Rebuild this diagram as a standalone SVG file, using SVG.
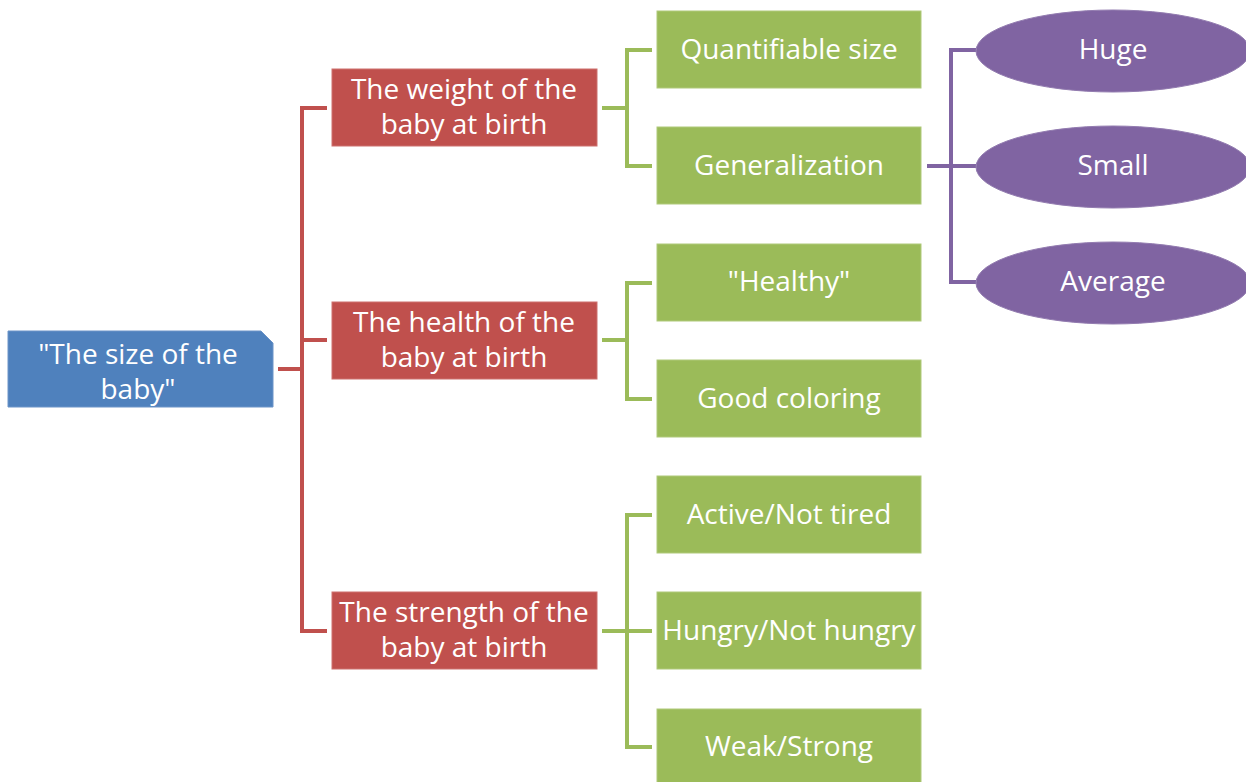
<svg xmlns="http://www.w3.org/2000/svg" width="1246" height="782" viewBox="0 0 1246 782">
  <style>
    text { font-family: "Open Sans", "Noto Sans", "Liberation Sans", sans-serif; font-size: 28px; fill: #ffffff; text-anchor: middle; }
    .root { fill: #4F81BD; stroke: #6C94C8; stroke-width: 1; }
    .lvl1 { fill: #C0504D; stroke: #CD716E; stroke-width: 1; }
    .lvl2 { fill: #9BBB59; stroke: #AFC97B; stroke-width: 1; }
    .lvl3 { fill: #8064A2; stroke: #937CB0; stroke-width: 1; }
    .c-red { fill: none; stroke: #C0504D; stroke-width: 4; }
    .c-green { fill: none; stroke: #9BBB59; stroke-width: 4; }
    .c-purple { fill: none; stroke: #8064A2; stroke-width: 4; }
  </style>

  <!-- connectors -->
  <g id="connectors">
    <path class="c-red" d="M278 369 H302 M327 108 H302 V631 H327 M302 340 H327"/>
    <path class="c-green" d="M602 108 H627 M652 50 H627 V166 H652"/>
    <path class="c-green" d="M602 340 H627 M652 283 H627 V399 H652"/>
    <path class="c-green" d="M602 631 H627 M652 515 H627 V747 H652 M627 631 H652"/>
    <path class="c-purple" d="M927 166 H951 M976 50 H951 V282 H976 M951 166 H976"/>
  </g>

  <!-- root -->
  <g id="node-root">
    <path class="root" d="M8 331 H261 L273 343 V407 H8 Z"/>
    <text x="138" y="364">"The size of the</text>
    <text x="138" y="399">baby"</text>
  </g>

  <!-- second level -->
  <g id="node-weight">
    <rect class="lvl1" x="332" y="69" width="265" height="77"/>
    <text x="464" y="99">The weight of the</text>
    <text x="464" y="134">baby at birth</text>
  </g>
  <g id="node-health">
    <rect class="lvl1" x="332" y="302" width="265" height="77"/>
    <text x="464" y="332">The health of the</text>
    <text x="464" y="367">baby at birth</text>
  </g>
  <g id="node-strength">
    <rect class="lvl1" x="332" y="592" width="265" height="77"/>
    <text x="464" y="622">The strength of the</text>
    <text x="464" y="657">baby at birth</text>
  </g>

  <!-- third level -->
  <g id="node-quantifiable">
    <rect class="lvl2" x="657" y="11" width="264" height="77"/>
    <text x="789" y="59">Quantifiable size</text>
  </g>
  <g id="node-generalization">
    <rect class="lvl2" x="657" y="127" width="264" height="77"/>
    <text x="789" y="175">Generalization</text>
  </g>
  <g id="node-healthy">
    <rect class="lvl2" x="657" y="244" width="264" height="77"/>
    <text x="789" y="291">"Healthy"</text>
  </g>
  <g id="node-coloring">
    <rect class="lvl2" x="657" y="360" width="264" height="77"/>
    <text x="789" y="408">Good coloring</text>
  </g>
  <g id="node-active">
    <rect class="lvl2" x="657" y="476" width="264" height="77"/>
    <text x="789" y="524">Active/Not tired</text>
  </g>
  <g id="node-hungry">
    <rect class="lvl2" x="657" y="592" width="264" height="77"/>
    <text x="789" y="640">Hungry/Not hungry</text>
  </g>
  <g id="node-weak">
    <rect class="lvl2" x="657" y="709" width="264" height="77"/>
    <text x="789" y="756">Weak/Strong</text>
  </g>

  <!-- fourth level -->
  <g id="node-huge">
    <ellipse class="lvl3" cx="1113" cy="51" rx="137" ry="41"/>
    <text x="1113" y="59">Huge</text>
  </g>
  <g id="node-small">
    <ellipse class="lvl3" cx="1113" cy="167" rx="137" ry="41"/>
    <text x="1113" y="175">Small</text>
  </g>
  <g id="node-average">
    <ellipse class="lvl3" cx="1113" cy="283" rx="137" ry="41"/>
    <text x="1113" y="291">Average</text>
  </g>
</svg>
